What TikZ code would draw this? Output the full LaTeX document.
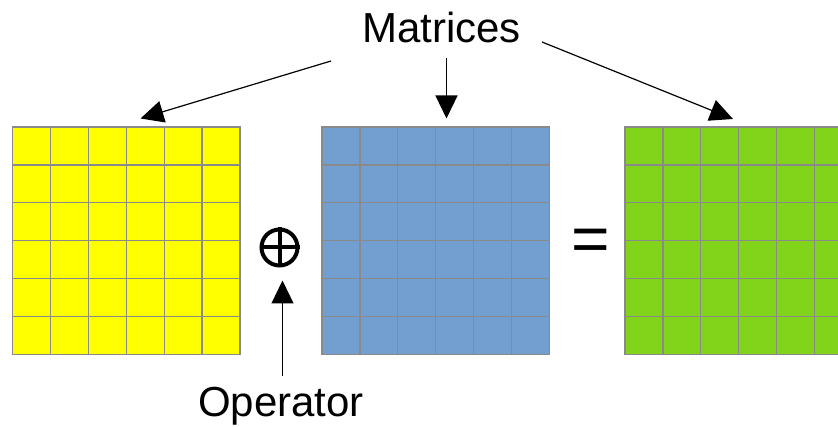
\documentclass[tikz,border=0pt]{standalone}
\usepackage{fontspec}
\setmainfont{Liberation Sans}
\usetikzlibrary{arrows.meta,calc}
\definecolor{yellowc}{HTML}{FFFF00}
\definecolor{bluec}{HTML}{729FCF}
\definecolor{greenc}{HTML}{81D41A}
\definecolor{gridc}{HTML}{8A8A8A}
\tikzset{
  matbox/.style={draw=gridc, line width=1.3pt, minimum width=227.5pt, minimum height=227.5pt, inner sep=0pt, outer sep=0pt},
  gridline/.style={draw=gridc, line width=1.3pt},
  label/.style={font=\fontsize{42}{50}\selectfont, inner sep=0pt, anchor=base},
  pointer/.style={line width=1.2pt, -{Triangle[length=23pt,width=22pt]}},
  opsym/.style={line width=4pt}
}
\newcommand{\gridlines}[1]{%
  \foreach \k in {1,...,5}{%
    \draw[gridline] ($(#1.north west)+(\k*37.917pt,0)$) -- ($(#1.south west)+(\k*37.917pt,0)$);
    \draw[gridline] ($(#1.north west)+(0,-\k*37.917pt)$) -- ($(#1.north east)+(0,-\k*37.917pt)$);
  }}
\begin{document}
\begin{tikzpicture}[x=1pt,y=-1pt]
\useasboundingbox (0,0) rectangle (838,427);
\clip (0,0) rectangle (838,427);
% matrices
\node[matbox, fill=yellowc] (A) at (126.25,240.75) {};
\node[matbox, fill=bluec] (B) at (435.75,240.75) {};
\node[matbox, fill=greenc] (C) at (738.75,240.75) {};
\gridlines{A}
\gridlines{B}
\gridlines{C}
% labels
\node[label] (M) at (441.5,43) {Matrices};
\node[label] (O) at (281,417) {Operator};
% operator symbol
\node[draw, circle, opsym, minimum size=36pt, inner sep=0pt] (P) at (279.5,247.5) {};
\draw[opsym] (P.north) -- (P.south);
\draw[opsym] (P.west) -- (P.east);
% equals sign
\node[font=\fontsize{66}{70}\selectfont, inner sep=0pt, anchor=base] (E) at (591,262) {=};
% pointers
\coordinate (m1) at (331,61);
\coordinate (m2) at (446.5,58);
\coordinate (m3) at (542,42);
\coordinate (t1) at (140.5,118.5);
\coordinate (t2) at (446.5,118.5);
\coordinate (t3) at (733,119);
\draw[pointer] (m1) -- (t1);
\draw[pointer] (m2) -- (t2);
\draw[pointer] (m3) -- (t3);
\coordinate (o1) at (282.5,376);
\coordinate (o2) at (282.5,280.5);
\draw[pointer] (o1) -- (o2);
\end{tikzpicture}
\end{document}
